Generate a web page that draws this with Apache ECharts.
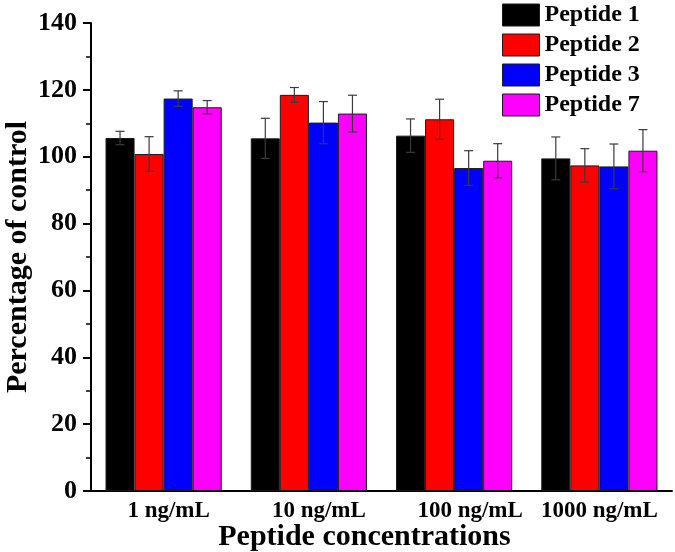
<!DOCTYPE html>
<html>
<head>
<meta charset="utf-8">
<script src="https://cdn.jsdelivr.net/npm/echarts@6/dist/echarts.min.js"></script>
<style>
html,body{margin:0;padding:0;background:#fff;}
#chart{width:675px;height:552px;}
</style>
</head>
<body>
<div id="chart"></div>
<script>
var categories = ['1 ng/mL', '10 ng/mL', '100 ng/mL', '1000 ng/mL'];
var seriesNames = ['Peptide 1', 'Peptide 2', 'Peptide 3', 'Peptide 7'];
var peptide1 = [105.6, 105.5, 106.3, 99.5];
var peptide2 = [100.8, 118.5, 111.2, 97.4];
var peptide3 = [117.4, 110.2, 96.6, 97.1];
var peptide7 = [114.8, 112.9, 98.8, 101.8];
var err1 = [2.0, 6.0, 5.0, 6.4];
var err2 = [5.2, 2.2, 6.0, 5.0];
var err3 = [2.3, 6.3, 5.2, 6.7];
var err7 = [2.0, 5.5, 5.1, 6.3];
var yTicks = [0, 20, 40, 60, 80, 100, 120, 140];

var values = [peptide1, peptide2, peptide3, peptide7];
var errors = [err1, err2, err3, err7];
var colors = ['#000000', '#ff0000', '#0000ff', '#ff00ff'];
var FONT = '"Liberation Serif", "Times New Roman", serif';
var nBars = 4;
var gapFrac = 0.2;

var chart = echarts.init(document.getElementById('chart'));

var series = [];
values.forEach(function (vals, i) {
  series.push({
    name: seriesNames[i],
    type: 'bar',
    data: vals,
    barGap: '0%',
    barCategoryGap: '20%',
    itemStyle: { color: colors[i], borderColor: '#1a1a1a', borderWidth: 1 },
    z: 2
  });
});
values.forEach(function (vals, i) {
  series.push({
    type: 'custom',
    name: seriesNames[i] + ' err',
    z: 5,
    silent: true,
    data: vals.map(function (v, k) { return [k, v, errors[i][k]]; }),
    renderItem: function (params, api) {
      var cat = api.value(0), v = api.value(1), e = api.value(2);
      var band = api.size([1, 0])[0];
      var barW = band * (1 - gapFrac) / nBars;
      var c = api.coord([cat, v]);
      var x = c[0] + (i - (nBars - 1) / 2) * barW;
      var top = api.coord([cat, v + e])[1];
      var bot = api.coord([cat, v - e])[1];
      var cap = 4.5;
      var st = { stroke: '#3a3a3a', lineWidth: 1.2 };
      return {
        type: 'group',
        children: [
          { type: 'line', shape: { x1: x, y1: top, x2: x, y2: bot }, style: st },
          { type: 'line', shape: { x1: x - cap, y1: top, x2: x + cap, y2: top }, style: st },
          { type: 'line', shape: { x1: x - cap, y1: bot, x2: x + cap, y2: bot }, style: st }
        ]
      };
    }
  });
});

var labelShift = [10, 20, 32, 0];
var rich = {};
labelShift.forEach(function (p, k) {
  rich['s' + k] = { fontFamily: FONT, fontWeight: 'bold', fontSize: 23, color: '#000', padding: [0, 0, 0, p] };
});

chart.setOption({
  animation: false,
  backgroundColor: '#fff',
  grid: { left: 91, right: 3, top: 23, bottom: 61, containLabel: false, outerBoundsMode: 'none' },
  legend: {
    data: seriesNames,
    orient: 'vertical',
    left: 497,
    top: -2,
    icon: 'rect',
    itemWidth: 37,
    itemHeight: 22,
    itemGap: 6,
    itemStyle: { borderColor: '#1a1a1a', borderWidth: 1 },
    textStyle: { fontFamily: FONT, fontWeight: 'bold', fontSize: 24, color: '#000' }
  },
  xAxis: {
    type: 'category',
    data: categories,
    name: 'Peptide concentrations',
    nameLocation: 'middle',
    nameGap: 31,
    nameMoveOverlap: false,
    nameTextStyle: { fontFamily: FONT, fontWeight: 'bold', fontSize: 30, color: '#000', padding: [0, 34, 0, 0] },
    axisLine: { lineStyle: { color: '#000', width: 2 } },
    axisTick: { show: false },
    axisLabel: {
      interval: 0,
      margin: 9,
      fontFamily: FONT, fontWeight: 'bold', fontSize: 23, color: '#000',
      formatter: function (val, idx) { return '{s' + idx + '|' + val + '}'; },
      rich: rich
    },
    splitLine: { show: false }
  },
  yAxis: {
    type: 'value',
    min: yTicks[0],
    max: yTicks[yTicks.length - 1],
    interval: yTicks[1] - yTicks[0],
    name: 'Percentage of control',
    nameLocation: 'middle',
    nameGap: 58,
    nameMoveOverlap: false,
    nameTextStyle: { fontFamily: FONT, fontWeight: 'bold', fontSize: 30, color: '#000' },
    axisLine: { show: true, lineStyle: { color: '#000', width: 2 } },
    axisTick: { show: true, length: 8, lineStyle: { color: '#000', width: 2 } },
    minorTick: { show: true, splitNumber: 2, length: 5, lineStyle: { color: '#000', width: 1.5 } },
    axisLabel: { margin: 14, fontFamily: FONT, fontWeight: 'bold', fontSize: 26, color: '#000' },
    splitLine: { show: false }
  },
  series: series
});
</script>
</body>
</html>
